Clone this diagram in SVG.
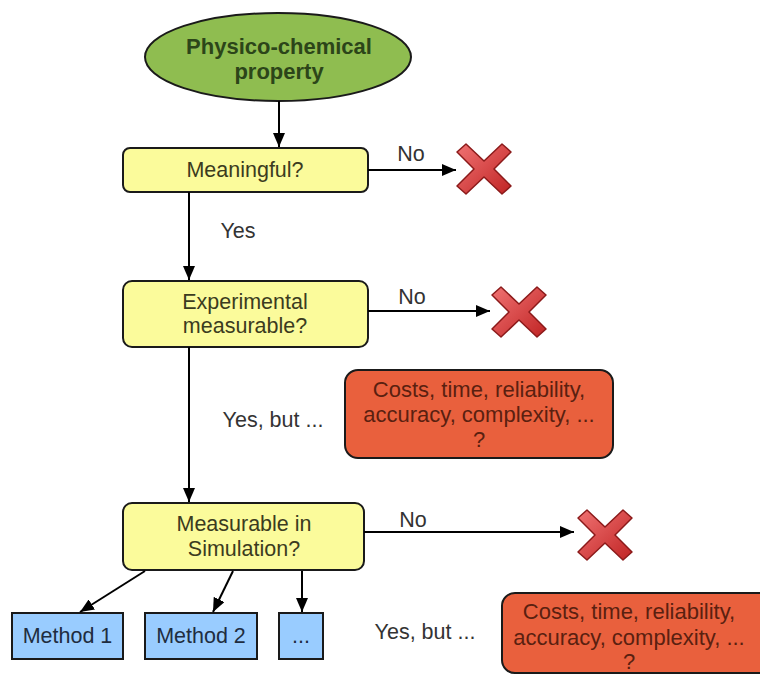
<svg xmlns="http://www.w3.org/2000/svg" width="760" height="675" viewBox="0 0 760 675">
<defs>
<marker id="ah" viewBox="0 0 14 12" refX="14" refY="6" markerWidth="14" markerHeight="12" orient="auto" markerUnits="userSpaceOnUse">
<path d="M0,0 L14,6 L0,12 z" fill="#000"/>
</marker>
<linearGradient id="xg" x1="0" y1="0" x2="1" y2="1">
<stop offset="0" stop-color="#f07272"/>
<stop offset="1" stop-color="#c02424"/>
</linearGradient>
<symbol id="xmark" viewBox="-28 -26 56 52" overflow="visible">
<polygon points="-27,-17 -18,-25 0,-8 18,-25 27,-17 10,0 27,17 18,25 0,8 -18,25 -27,17 -10,0" fill="url(#xg)" stroke="#8b1a1a" stroke-width="1.5" stroke-linejoin="round"/>
</symbol>
</defs>
<style>
text{font-family:"Liberation Sans",Arial,sans-serif;font-size:21.5px;text-anchor:middle}
.dec{fill:#fbfb9b;stroke:#1a1a1a;stroke-width:2}
.warn{fill:#e9603d;stroke:#1a1a1a;stroke-width:2}
.meth{fill:#99ccff;stroke:#1a1a1a;stroke-width:2}
.lbl{fill:#333}
.dt{fill:#3b3b20}
.wt{fill:#5a2010;font-size:22px}
.mt{fill:#1f2d40}
.conn line{stroke:#000;stroke-width:2;marker-end:url(#ah)}
</style>
<rect width="760" height="675" fill="#fff"/>
<g id="start">
<ellipse cx="278" cy="57" rx="133" ry="44" fill="#8fbd50" stroke="#1a1a1a" stroke-width="2"/>
<text x="279" y="54" font-weight="bold" fill="#2c4519" style="font-size:22px">Physico-chemical</text>
<text x="279" y="79" font-weight="bold" fill="#2c4519" style="font-size:22px">property</text>
</g>
<g id="meaningful">
<rect class="dec" x="123" y="148" width="245" height="44" rx="7"/>
<text class="dt" x="245" y="177">Meaningful?</text>
</g>
<g id="experimental">
<rect class="dec" x="123" y="281" width="245" height="66" rx="9"/>
<text class="dt" x="245" y="309">Experimental</text>
<text class="dt" x="245" y="333">measurable?</text>
</g>
<g id="simulation">
<rect class="dec" x="123" y="503" width="241" height="67" rx="9"/>
<text class="dt" x="244" y="531">Measurable in</text>
<text class="dt" x="244" y="556">Simulation?</text>
</g>
<g id="costs1">
<rect class="warn" x="345" y="370" width="268" height="88" rx="13"/>
<text class="wt" x="479" y="397">Costs, time, reliability,</text>
<text class="wt" x="479" y="422">accuracy, complexity, ...</text>
<text class="wt" x="479" y="447">?</text>
</g>
<g id="costs2">
<rect class="warn" x="502" y="593" width="270" height="80" rx="13"/>
<text class="wt" x="629" y="619">Costs, time, reliability,</text>
<text class="wt" x="629" y="645">accuracy, complexity, ...</text>
<text class="wt" x="629" y="669">?</text>
</g>
<g id="method1">
<rect class="meth" x="12" y="613" width="111" height="46"/>
<text class="mt" x="67.5" y="643">Method 1</text>
</g>
<g id="method2">
<rect class="meth" x="145" y="613" width="112" height="46"/>
<text class="mt" x="201" y="643">Method 2</text>
</g>
<g id="more">
<rect class="meth" x="279" y="613" width="44" height="46"/>
<text class="mt" x="301" y="643">...</text>
</g>
<g id="reject1"><use href="#xmark" x="456" y="143" width="56" height="52"/></g>
<g id="reject2"><use href="#xmark" x="491" y="286" width="56" height="52"/></g>
<g id="reject3"><use href="#xmark" x="577" y="509" width="56" height="52"/></g>
<g class="conn" id="connectors">
<line x1="279" y1="101" x2="279" y2="147"/>
<line x1="368" y1="170" x2="456" y2="170"/>
<line x1="189" y1="192" x2="189" y2="280"/>
<line x1="368" y1="311" x2="490" y2="311"/>
<line x1="189" y1="347" x2="189" y2="502"/>
<line x1="364" y1="532" x2="574" y2="532"/>
<line x1="145" y1="571" x2="80" y2="612"/>
<line x1="233" y1="571" x2="213" y2="612"/>
<line x1="302" y1="571" x2="302" y2="612"/>
</g>
<g id="labels">
<text class="lbl" x="411" y="161">No</text>
<text class="lbl" x="238" y="238">Yes</text>
<text class="lbl" x="412" y="304">No</text>
<text class="lbl" x="273" y="427">Yes, but ...</text>
<text class="lbl" x="413" y="527">No</text>
<text class="lbl" x="425" y="639">Yes, but ...</text>
</g>
</svg>
